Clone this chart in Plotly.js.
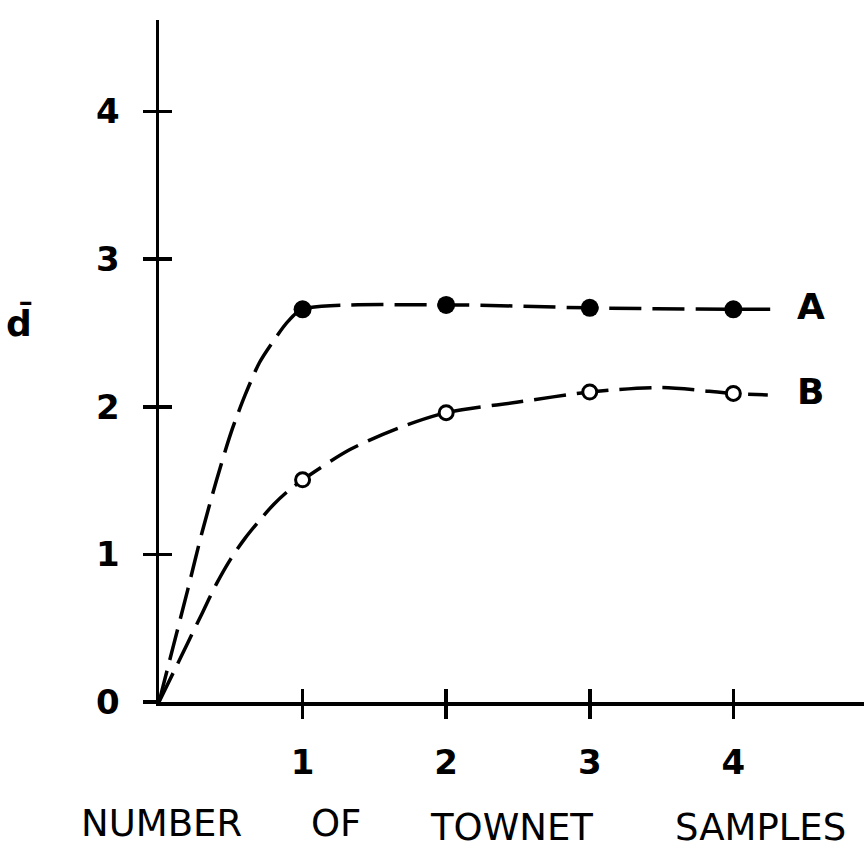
<!DOCTYPE html>
<html>
<head>
<meta charset="utf-8">
<script src="https://cdn.plot.ly/plotly-3.0.1.min.js"></script>
<style>html,body{margin:0;padding:0;background:#fff;}#chart{width:864px;height:849px;}</style>
</head>
<body>
<div id="chart"></div>
<script>
// Measured points (number of townet samples vs d-bar)
const samples = [1, 2, 3, 4];
const dA = [2.66, 2.69, 2.67, 2.66];
const dB = [1.505, 1.96, 2.10, 2.09];

// Hand-drawn curves
const curveAx = [0, 0.1, 0.2, 0.3, 0.4, 0.5, 0.6, 0.7, 0.8, 0.9, 1, 2, 3, 4, 4.32];
const curveAy = [0, 0.38, 0.76, 1.15, 1.5, 1.82, 2.08, 2.30, 2.45, 2.58, 2.66, 2.69, 2.67, 2.66, 2.66];
const curveBx = [0, 0.1, 0.2, 0.3, 0.4, 0.5, 0.6, 0.7, 0.8, 0.9, 1, 1.33, 1.68, 2, 2.49, 3, 3.5, 4, 4.24];
const curveBy = [0, 0.2, 0.4, 0.6, 0.8, 0.97, 1.11, 1.23, 1.34, 1.43, 1.505, 1.71, 1.86, 1.96, 2.03, 2.10, 2.13, 2.09, 2.08];

const xTicks = [1, 2, 3, 4];
const xTickText = ['1', '2', '3', '4'];
const yTicks = [0, 1, 2, 3, 4];
const yTickText = ['0', '1', '2', '3', '4'];
const seriesLabels = ['A', 'B'];
const xTitleWords = ['NUMBER', 'OF', 'TOWNET', 'SAMPLES'];
const yTitle = 'd\u0304';

const xRange = [0, 4.91];
const yRange = [0, 4.62];
const lineStyle = {color: '#000', width: 3.5, dash: '32px,11px', shape: 'spline', smoothing: 0.8};

const traces = [
  {x: curveAx, y: curveAy, mode: 'lines', line: lineStyle, hoverinfo: 'skip', showlegend: false},
  {x: curveBx, y: curveBy, mode: 'lines', line: lineStyle, hoverinfo: 'skip', showlegend: false},
  {x: samples, y: dA, mode: 'markers', name: seriesLabels[0], showlegend: false,
   marker: {color: '#000', size: 18, line: {width: 0}}},
  {x: samples, y: dB, mode: 'markers', name: seriesLabels[1], showlegend: false,
   marker: {color: '#fff', size: 14, line: {color: '#000', width: 3}}},
  {x: [], y: [], xaxis: 'x2', yaxis: 'y2', mode: 'markers', showlegend: false, hoverinfo: 'skip'}
];

const tickFont = {family: 'DejaVu Sans', size: 34, color: '#000', weight: 'bold'};
const wordCenters = [161.5, 336, 511, 760];
const wordY = [823, 823, 827, 827];
const plotL = 159, plotW = 705, plotB = 702, plotH = 682;

const annotations = xTitleWords.map((w, i) => ({
  text: w, xref: 'paper', yref: 'paper',
  x: (wordCenters[i] - plotL) / plotW, y: (plotB - wordY[i]) / plotH,
  xanchor: 'center', yanchor: 'middle', showarrow: false,
  font: {family: 'DejaVu Sans', size: 37, color: '#000'}
}));
annotations.push({text: yTitle, xref: 'paper', yref: 'paper',
  x: (19 - plotL) / plotW, y: (plotB - 322) / plotH, xanchor: 'center', yanchor: 'middle',
  showarrow: false, font: {family: 'DejaVu Sans', size: 36, color: '#000', weight: 'bold'}});
annotations.push({text: seriesLabels[0], xref: 'paper', yref: 'paper',
  x: (811 - plotL) / plotW, y: (plotB - 306) / plotH, xanchor: 'center', yanchor: 'middle',
  showarrow: false, font: {family: 'DejaVu Sans', size: 36, color: '#000', weight: 'bold'}});
annotations.push({text: seriesLabels[1], xref: 'paper', yref: 'paper',
  x: (810 - plotL) / plotW, y: (plotB - 391) / plotH, xanchor: 'center', yanchor: 'middle',
  showarrow: false, font: {family: 'DejaVu Sans', size: 36, color: '#000', weight: 'bold'}});

const layout = {
  width: 864, height: 849,
  margin: {l: plotL, r: 0, t: 20, b: 147, pad: 0},
  paper_bgcolor: '#fff', plot_bgcolor: '#fff',
  showlegend: false,
  xaxis: {range: xRange, showgrid: false, zeroline: false, showline: true, linecolor: '#000', linewidth: 3.5,
    ticks: 'outside', ticklen: 13, tickwidth: 3.5, tickcolor: '#000',
    tickvals: xTicks, ticktext: xTickText, tickfont: tickFont, ticklabelstandoff: 15, fixedrange: true},
  yaxis: {range: yRange, showgrid: false, zeroline: false, showline: true, linecolor: '#000', linewidth: 3.5,
    ticks: 'outside', ticklen: 13, tickwidth: 3.5, tickcolor: '#000',
    tickvals: yTicks, ticktext: yTickText, tickfont: tickFont, ticklabelstandoff: 16, fixedrange: true},
  xaxis2: {overlaying: 'x', anchor: 'y2', side: 'bottom', range: xRange, showgrid: false, zeroline: false,
    showline: false, ticks: 'inside', ticklen: 13, tickwidth: 3.5, tickcolor: '#000',
    tickvals: xTicks, showticklabels: false, fixedrange: true},
  yaxis2: {overlaying: 'y', anchor: 'x2', side: 'left', range: yRange, showgrid: false, zeroline: false,
    showline: false, ticks: 'inside', ticklen: 13, tickwidth: 3.5, tickcolor: '#000',
    tickvals: yTicks, showticklabels: false, fixedrange: true},
  annotations: annotations
};

Plotly.newPlot('chart', traces, layout, {staticPlot: true, displayModeBar: false});
</script>
</body>
</html>
